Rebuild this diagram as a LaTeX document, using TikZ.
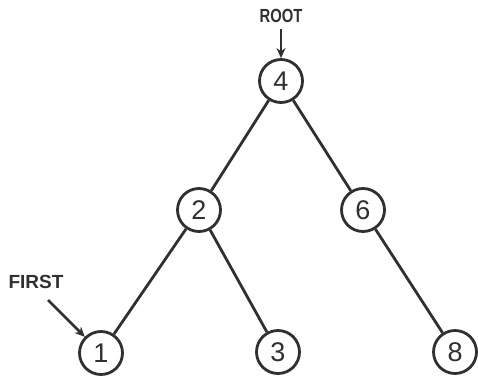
\documentclass[tikz,border=0pt]{standalone}
\usepackage{fontspec}
\setmainfont{Liberation Sans}
\usetikzlibrary{arrows.meta}
\definecolor{ink}{HTML}{303030}
\begin{document}
\begin{tikzpicture}[x=1pt,y=-1pt,
  tnode/.style={circle,draw=ink,line width=2.8pt,minimum size=43pt,inner sep=0pt,text=ink,font=\fontsize{27}{27}\selectfont},
  edge/.style={draw=ink,line width=2.8pt},
  lbl/.style={text=ink,font=\bfseries\fontsize{19}{19}\selectfont},
  ptr/.style={draw=ink,line width=2.8pt,-{Stealth[length=10pt,width=9pt]}}]
\useasboundingbox (0,0) rectangle (478,380);
\node[tnode] (n4) at (281,81) {4};
\node[tnode] (n2) at (199,210) {2};
\node[tnode] (n6) at (363,210) {6};
\node[tnode] (n1) at (101,353) {1};
\node[tnode] (n3) at (278,352) {3};
\node[tnode] (n8) at (455,352) {8};
\draw[edge] (n4) -- (n2);
\draw[edge] (n4) -- (n6);
\draw[edge] (n2) -- (n1);
\draw[edge] (n2) -- (n3);
\draw[edge] (n6) -- (n8);
\node[lbl,xscale=0.78] (root) at (281,16) {ROOT};
\node[lbl] (first) at (36,282) {FIRST};
\coordinate (rs) at (281,29);
\coordinate (fs) at (48,300);
\draw[ptr] (rs) -- (n4.north);
\draw[ptr] (fs) -- (n1.north west);
\end{tikzpicture}
\end{document}
